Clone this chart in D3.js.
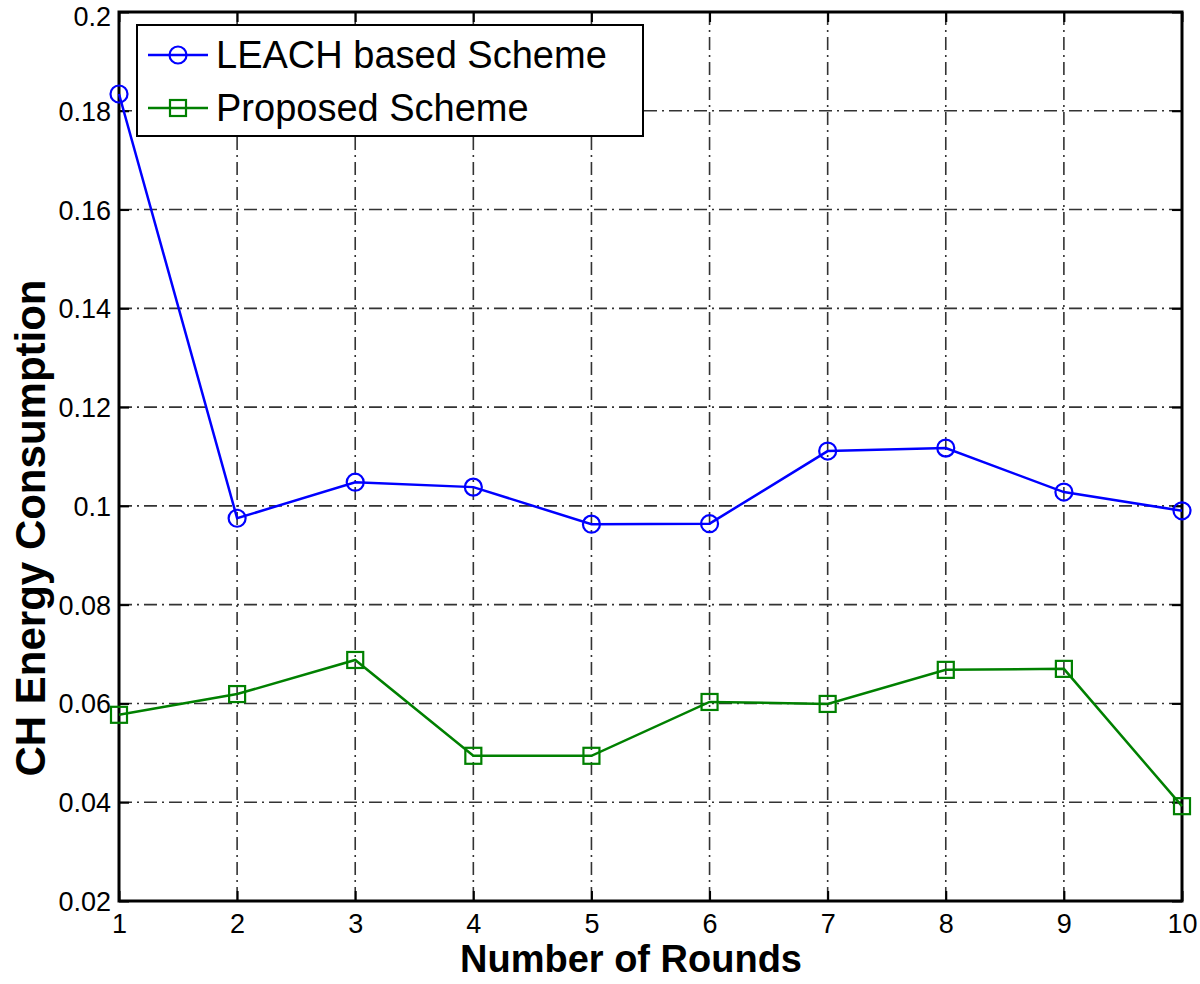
<!DOCTYPE html>
<html>
<head>
<meta charset="utf-8">
<script src="https://cdn.jsdelivr.net/npm/d3@7"></script>
<style>
  body { margin: 0; background: #fff; }
  svg text { font-family: Arial, "Liberation Sans", sans-serif; }
</style>
</head>
<body>
<div id="chart"></div>
<script>
// rounds on the x axis
var rounds = [1, 2, 3, 4, 5, 6, 7, 8, 9, 10];
// CH energy consumption per round
var leachValues = [0.1834, 0.0975, 0.1048, 0.1038, 0.0963, 0.0964, 0.1111, 0.1117, 0.1028, 0.0990];
var proposedValues = [0.0577, 0.0619, 0.0688, 0.0494, 0.0494, 0.0603, 0.0599, 0.0668, 0.0670, 0.0392];
var seriesNames = ["LEACH based Scheme", "Proposed Scheme"];
var yTicks = [0.02, 0.04, 0.06, 0.08, 0.1, 0.12, 0.14, 0.16, 0.18, 0.2];

var width = 1200, height = 984;
var plotLeft = 119, plotRight = 1182, plotTop = 12, plotBottom = 901;

var svg = d3.select("#chart").append("svg")
  .attr("width", width)
  .attr("height", height);

/* Scales */
var x = d3.scaleLinear().domain([1, 10]).range([plotLeft, plotRight]);
var y = d3.scaleLinear().domain([0.02, 0.2]).range([plotBottom, plotTop]);

/* Grid, dash-dot */
var grid = svg.append("g").attr("stroke", "#333").attr("stroke-width", 1.6)
  .attr("stroke-dasharray", "13,5,2,5");
grid.selectAll(".vg").data(rounds.slice(1, -1)).enter().append("line")
  .attr("x1", d => x(d)).attr("x2", d => x(d))
  .attr("y1", plotTop).attr("y2", plotBottom);
grid.selectAll(".hg").data(yTicks.slice(1, -1)).enter().append("line")
  .attr("y1", d => y(d)).attr("y2", d => y(d))
  .attr("x1", plotLeft).attr("x2", plotRight);

/* Axes: ticks pointing inward */
var xAxis = d3.axisBottom(x).tickValues(rounds).tickSize(-10).tickPadding(12)
  .tickFormat(d3.format("d"));
var yAxis = d3.axisLeft(y).tickValues(yTicks).tickSize(-10).tickPadding(8)
  .tickFormat(d => String(+d.toFixed(2)));

var gx = svg.append("g").attr("transform", `translate(0, ${plotBottom})`).call(xAxis);
var gy = svg.append("g").attr("transform", `translate(${plotLeft}, 0)`).call(yAxis);
var gxTop = svg.append("g").attr("transform", `translate(0, ${plotTop})`)
  .call(d3.axisTop(x).tickValues(rounds).tickSize(-10).tickFormat(""));
var gyRight = svg.append("g").attr("transform", `translate(${plotRight}, 0)`)
  .call(d3.axisRight(y).tickValues(yTicks).tickSize(-10).tickFormat(""));

[gx, gy, gxTop, gyRight].forEach(function (g) {
  g.attr("font-size", null);
  g.select(".domain").remove();
  g.selectAll(".tick line").attr("stroke", "#000").attr("stroke-width", 2);
  g.selectAll(".tick text").attr("fill", "#000").style("font-size", "27px");
});
gx.selectAll(".tick text").attr("dy", "0.75em");
gy.selectAll(".tick text").attr("dy", "0.35em");
gy.select(".tick:last-of-type text").attr("dy", "0.5em");

/* Frame */
svg.append("rect")
  .attr("x", plotLeft).attr("y", plotTop)
  .attr("width", plotRight - plotLeft).attr("height", plotBottom - plotTop)
  .attr("fill", "none").attr("stroke", "#000").attr("stroke-width", 3);

/* Lines */
var line = d3.line().x((d, i) => x(rounds[i])).y(d => y(d));

svg.append("path").datum(leachValues)
  .attr("d", line).attr("fill", "none")
  .attr("stroke", "#0000ff").attr("stroke-width", 2.5);
svg.append("path").datum(proposedValues)
  .attr("d", line).attr("fill", "none")
  .attr("stroke", "#008000").attr("stroke-width", 2.5);

svg.append("g").selectAll("circle").data(leachValues).enter().append("circle")
  .attr("cx", (d, i) => x(rounds[i])).attr("cy", d => y(d)).attr("r", 8.5)
  .attr("fill", "none").attr("stroke", "#0000ff").attr("stroke-width", 2.2);
svg.append("g").selectAll("rect").data(proposedValues).enter().append("rect")
  .attr("x", (d, i) => x(rounds[i]) - 8).attr("y", d => y(d) - 8)
  .attr("width", 16).attr("height", 16)
  .attr("fill", "none").attr("stroke", "#008000").attr("stroke-width", 2.2);

/* Legend */
var legend = svg.append("g");
legend.append("rect")
  .attr("x", 137).attr("y", 25).attr("width", 506).attr("height", 111)
  .attr("fill", "#fff").attr("stroke", "#000").attr("stroke-width", 2);
var rowY = [55, 108];
legend.append("line").attr("x1", 148).attr("x2", 208).attr("y1", rowY[0]).attr("y2", rowY[0])
  .attr("stroke", "#0000ff").attr("stroke-width", 2.5);
legend.append("circle").attr("cx", 178).attr("cy", rowY[0]).attr("r", 8.5)
  .attr("fill", "none").attr("stroke", "#0000ff").attr("stroke-width", 2.2);
legend.append("line").attr("x1", 148).attr("x2", 208).attr("y1", rowY[1]).attr("y2", rowY[1])
  .attr("stroke", "#008000").attr("stroke-width", 2.5);
legend.append("rect").attr("x", 170).attr("y", rowY[1] - 8).attr("width", 16).attr("height", 16)
  .attr("fill", "none").attr("stroke", "#008000").attr("stroke-width", 2.2);
legend.selectAll("text").data(seriesNames).enter().append("text")
  .attr("x", 216).attr("y", (d, i) => rowY[i] + 13)
  .style("font-size", "38px").attr("fill", "#000")
  .text(d => d);

/* Axis titles */
svg.append("text")
  .attr("x", 631).attr("y", 972)
  .attr("text-anchor", "middle")
  .style("font-size", "38px").style("font-weight", "bold")
  .text("Number of Rounds");
svg.append("text")
  .attr("transform", `translate(45, 528) rotate(-90)`)
  .attr("text-anchor", "middle")
  .style("font-size", "42px").style("font-weight", "bold")
  .text("CH Energy Consumption");
</script>
</body>
</html>
